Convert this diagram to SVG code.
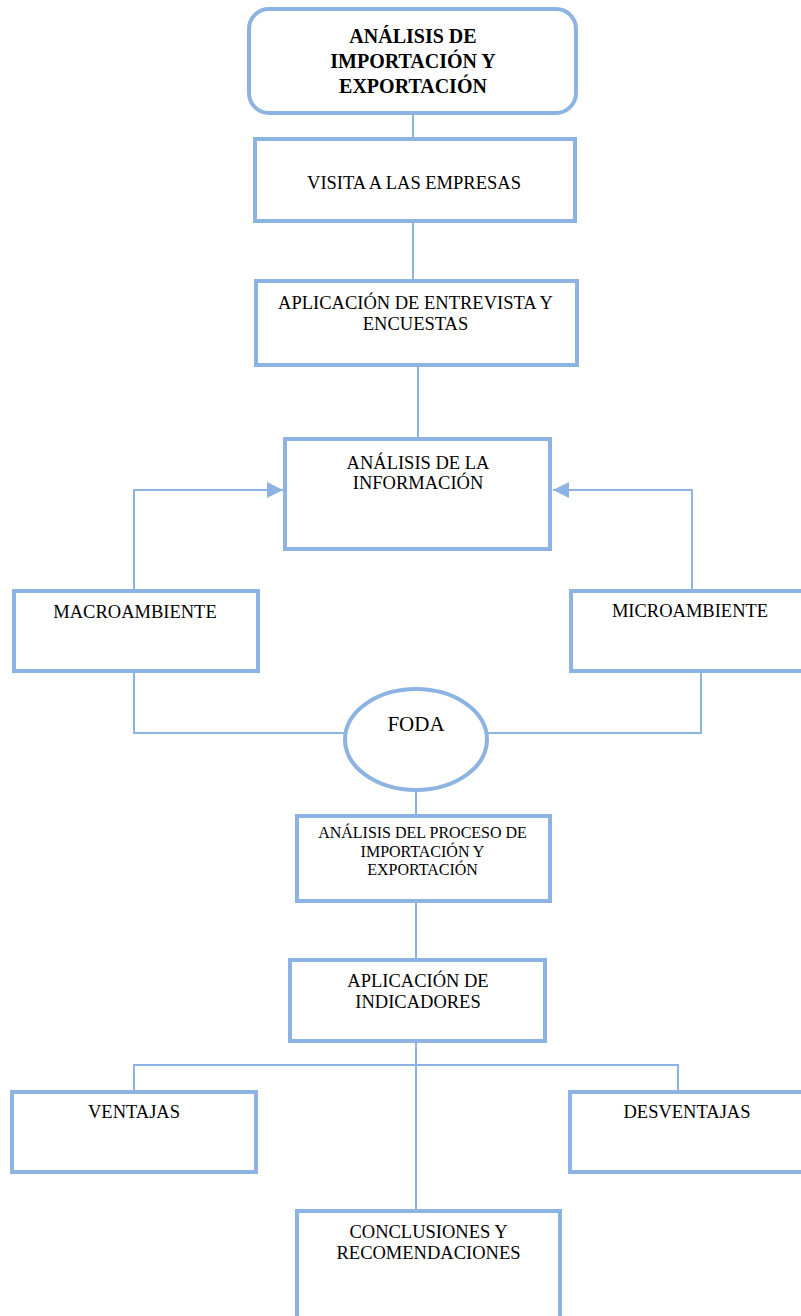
<svg xmlns="http://www.w3.org/2000/svg" width="801" height="1316" viewBox="0 0 801 1316">
<style>
.box{fill:#fff;stroke:#8DB3E2;stroke-width:4}
.con{fill:none;stroke:#8DB3E2;stroke-width:2}
.t{font-family:"Liberation Serif","Times New Roman",serif;font-size:18.5px;fill:#000;text-anchor:middle}
.tb{font-family:"Liberation Serif","Times New Roman",serif;font-size:20px;font-weight:bold;fill:#000;text-anchor:middle}
.ts{font-family:"Liberation Serif","Times New Roman",serif;font-size:16px;fill:#000;text-anchor:middle}
</style>
<defs>
<marker id="arr" markerUnits="userSpaceOnUse" markerWidth="16" markerHeight="16" refX="16" refY="8" orient="auto">
<path d="M0,0 L16,8 L0,16 z" fill="#8DB3E2"/>
</marker>
</defs>
<rect width="801" height="1316" fill="#fff"/>
<g id="connectors">
<path class="con" d="M413,115 V138"/>
<path class="con" d="M413,223 V280"/>
<path class="con" d="M418,367 V438"/>
<path class="con" d="M134,589 V490 H283" marker-end="url(#arr)"/>
<path class="con" d="M692,589 V490 H553" marker-end="url(#arr)"/>
<path class="con" d="M134,673 V733 H344"/>
<path class="con" d="M701,673 V733 H488"/>
<path class="con" d="M416,790 V815"/>
<path class="con" d="M416,903 V959"/>
<path class="con" d="M416,1043 V1210"/>
<path class="con" d="M134,1090 V1065 H678 V1090"/>
</g>
<g id="n-titulo">
<rect class="box" x="249" y="9" width="327" height="104" rx="20" ry="20"/>
<text class="tb" x="413" y="43">ANÁLISIS DE</text>
<text class="tb" x="413" y="68">IMPORTACIÓN Y</text>
<text class="tb" x="413" y="93">EXPORTACIÓN</text>
</g>
<g id="n-visita">
<rect class="box" x="255" y="139" width="320" height="82"/>
<text class="t" x="414" y="189">VISITA A LAS EMPRESAS</text>
</g>
<g id="n-entrevista">
<rect class="box" x="256" y="281" width="321" height="84"/>
<text class="t" x="415.5" y="309">APLICACIÓN DE ENTREVISTA Y</text>
<text class="t" x="415.5" y="330">ENCUESTAS</text>
</g>
<g id="n-informacion">
<rect class="box" x="285" y="439" width="265" height="110"/>
<text class="t" x="418" y="469">ANÁLISIS DE LA</text>
<text class="t" x="418" y="489">INFORMACIÓN</text>
</g>
<g id="n-macro">
<rect class="box" x="14" y="591" width="244" height="80"/>
<text class="t" x="135" y="618">MACROAMBIENTE</text>
</g>
<g id="n-micro">
<rect class="box" x="571" y="591" width="250" height="80"/>
<text class="t" x="690" y="617">MICROAMBIENTE</text>
</g>
<g id="n-foda">
<ellipse class="box" cx="416" cy="739.5" rx="71" ry="50.5"/>
<text class="t" x="416" y="731" style="font-size:21px">FODA</text>
</g>
<g id="n-proceso">
<rect class="box" x="297" y="816" width="253" height="85"/>
<text class="ts" x="422.5" y="838">ANÁLISIS DEL PROCESO DE</text>
<text class="ts" x="422.5" y="857">IMPORTACIÓN Y</text>
<text class="ts" x="422.5" y="875">EXPORTACIÓN</text>
</g>
<g id="n-indicadores">
<rect class="box" x="290" y="960" width="255" height="81"/>
<text class="t" x="418" y="987">APLICACIÓN DE</text>
<text class="t" x="418" y="1008">INDICADORES</text>
</g>
<g id="n-ventajas">
<rect class="box" x="12" y="1092" width="244" height="80"/>
<text class="t" x="134" y="1118">VENTAJAS</text>
</g>
<g id="n-desventajas">
<rect class="box" x="570" y="1092" width="250" height="80"/>
<text class="t" x="687" y="1118">DESVENTAJAS</text>
</g>
<g id="n-conclusiones">
<rect class="box" x="297" y="1211" width="263" height="150"/>
<text class="t" x="428.5" y="1238">CONCLUSIONES Y</text>
<text class="t" x="428.5" y="1259">RECOMENDACIONES</text>
</g>
</svg>
